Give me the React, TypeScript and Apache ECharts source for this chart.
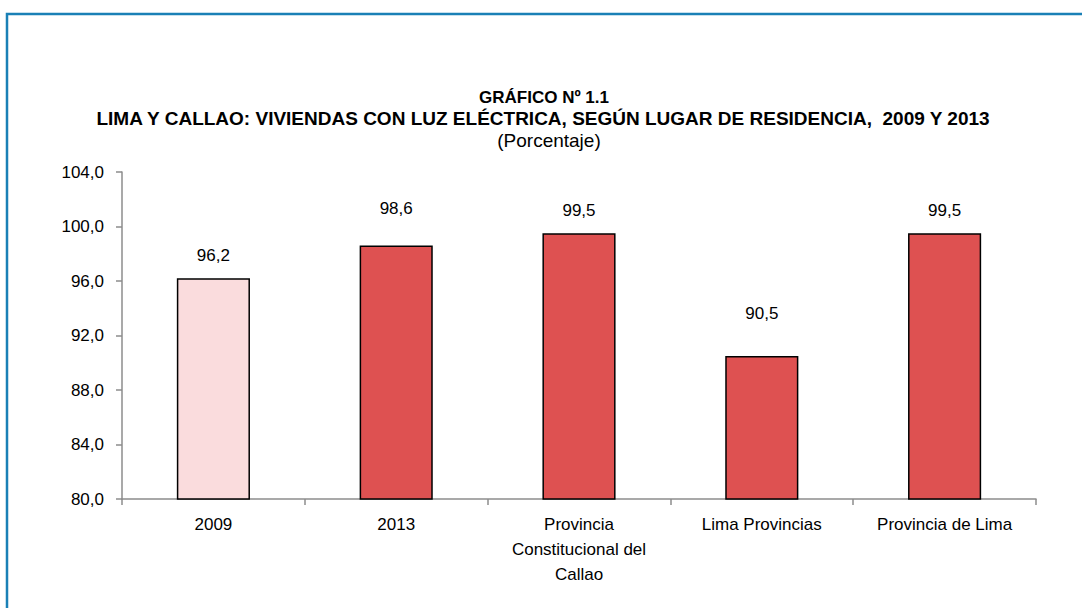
import React, { useEffect, useRef } from "react";
import * as echarts from "echarts";

const categories = ["2009", "2013", "Provincia\nConstitucional del\nCallao", "Lima Provincias", "Provincia de Lima"];
const values = [96.2, 98.6, 99.5, 90.5, 99.5];
const titleLines = ["GRÁFICO Nº 1.1", "LIMA Y CALLAO: VIVIENDAS CON LUZ ELÉCTRICA, SEGÚN LUGAR DE RESIDENCIA,  2009 Y 2013"];
const subtitle = "(Porcentaje)";

// styling (not data)
const barColors = ["#FADCDD", "#DE5151", "#DE5151", "#DE5151", "#DE5151"];
const labelGaps = [14, 29, 14, 34, 14];

const fmt = (v: number) => v.toFixed(1).replace(".", ",");

export default function App() {
  const ref = useRef<HTMLDivElement>(null);
  useEffect(() => {
    if (!ref.current) return;
    const chart = echarts.init(ref.current, null, { renderer: "svg" });
    const font = "'Liberation Sans', Arial, sans-serif";
    chart.setOption({
      animation: false,
      backgroundColor: "#ffffff",
      textStyle: { fontFamily: font },
      title: [
        {
          text: titleLines[0],
          left: 539,
          textAlign: "center",
          top: 84,
          textStyle: { fontSize: 17, fontWeight: "bold", color: "#000", fontFamily: font },
        },
        {
          text: titleLines[1],
          left: 538,
          textAlign: "center",
          top: 104,
          textStyle: { fontSize: 19, fontWeight: "bold", color: "#000", fontFamily: font },
        },
        {
          text: subtitle,
          left: 544,
          textAlign: "center",
          top: 126,
          textStyle: { fontSize: 19, fontWeight: "normal", color: "#000", fontFamily: font },
        },
      ],
      graphic: [
        {
          type: "rect",
          shape: { x: 7, y: 14, width: 1200, height: 700 },
          style: { fill: "none", stroke: "#1A80B6", lineWidth: 2.5 },
          silent: true,
        },
      ],
      grid: { left: 122, right: 46, top: 172, bottom: 109, containLabel: false },
      xAxis: {
        type: "category",
        data: categories,
        axisLine: { lineStyle: { color: "#8C8C8C", width: 1.5 } },
        axisTick: { show: true, length: 6, lineStyle: { color: "#8C8C8C", width: 1.5 } },
        axisLabel: { color: "#000", fontSize: 17, margin: 13, lineHeight: 25, interval: 0, fontFamily: font },
      },
      yAxis: {
        type: "value",
        min: 80,
        max: 104,
        interval: 4,
        axisLine: { show: true, lineStyle: { color: "#8C8C8C", width: 1.5 } },
        axisTick: { show: true, length: 6, lineStyle: { color: "#8C8C8C", width: 1.5 } },
        splitLine: { show: false },
        axisLabel: { color: "#000", fontSize: 17, margin: 18, formatter: (v: number) => fmt(v), fontFamily: font },
      },
      series: [
        {
          type: "bar",
          barWidth: "40%",
          data: values.map((v, i) => ({
            value: v,
            itemStyle: { color: barColors[i], borderColor: "#000", borderWidth: 1.5 },
            label: { distance: labelGaps[i] },
          })),
          label: {
            show: true,
            position: "top",
            distance: 14,
            color: "#000",
            fontSize: 17,
            fontFamily: font,
            formatter: (p: any) => fmt(p.value),
          },
        },
      ],
    });
    return () => chart.dispose();
  }, []);
  return <div ref={ref} style={{ position: "fixed", left: 0, top: 0, width: 1082, height: 608 }} />;
}
